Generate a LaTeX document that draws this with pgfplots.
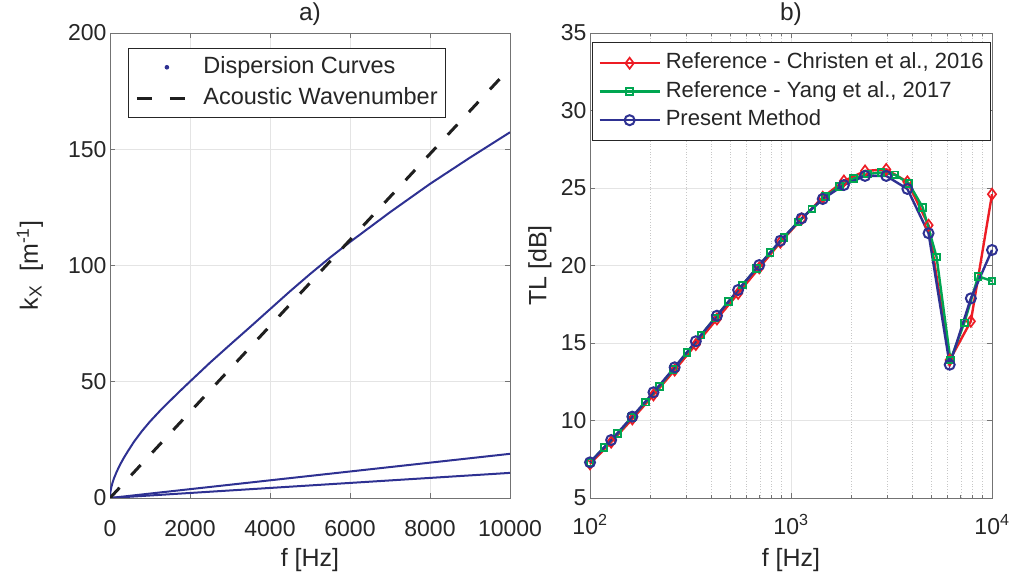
\documentclass[border=0pt]{standalone}
\usepackage{fontspec}
\setmainfont{Liberation Sans}
\usepackage{pgfplots}
\pgfplotsset{compat=1.18}
\definecolor{mblue}{RGB}{46,49,146}
\definecolor{mred}{RGB}{237,28,36}
\definecolor{mgreen}{RGB}{0,166,81}
\definecolor{axtext}{RGB}{38,38,38}
\definecolor{axline}{RGB}{115,115,115}
\definecolor{gridc}{RGB}{228,228,228}

\pgfplotsset{
  mstyle/.style={
    scale only axis,
    axis line style={draw=axline, line width=0.9pt},
    every tick/.style={draw=axline, line width=0.8pt},
    major tick length=5pt, minor tick length=3pt,
    grid=major,
    major grid style={draw=gridc, line width=0.8pt},
    tick label style={font=\fontsize{23}{27}\selectfont, text=axtext},
    /pgf/number format/assume math mode=true,
    /pgf/number format/1000 sep={},
    /pgf/number format/fixed,
    every axis x label/.style={at={(rel axis cs:0.5,0)}, yshift=-62pt, anchor=center,
       font=\fontsize{25}{29}\selectfont, text=axtext},
    every axis title/.style={at={(rel axis cs:0.5,1)}, yshift=19pt, anchor=center,
       font=\fontsize{24.5}{28}\selectfont, text=axtext},
  }
}

% Dispersion curves (f [Hz], k_x [1/m])
\pgfplotstableread{
f k
0 0
10 2.5
30 4.4
60 6.4
100 8.5
167 11.3
250 14.3
350 17.4
450 20.2
600 24.2
800 28.8
1000 32.9
1250 37.5
1500 41.8
1750 46.0
2000 50.1
2500 58.2
3000 65.9
3500 73.5
4000 81.2
4500 88.9
5000 96.3
5500 103.4
6000 110.1
7000 122.9
8000 135.1
9000 146.4
10000 157.3
}\curveA

\pgfplotstableread{
f k
0 0
2500 4.75
5000 9.5
7500 14.25
10000 19.0
}\curveB

\pgfplotstableread{
f k
0 0
2500 2.7
5000 5.4
7500 8.1
10000 10.8
}\curveC

% Transmission loss
\pgfplotstableread{
f tl
100 7.2
127.4 8.6
162.4 10.1
206.9 11.65
263.7 13.25
336.0 14.9
428.1 16.55
545.6 18.2
695.2 19.85
885.9 21.5
1128.8 23.0
1438.4 24.4
1832.9 25.45
2335.7 26.1
2976.4 26.2
3792.7 25.4
4832.9 22.6
6158.5 13.9
7847.6 16.4
10000 24.6
}\tlred

\pgfplotstableread{
f tl
100 7.3
117.2 8.25
137.4 9.15
161.0 10.2
188.7 11.18
221.2 12.2
259.3 13.3
303.9 14.38
356.2 15.5
417.5 16.6
489.4 17.68
573.6 18.75
672.3 19.8
788.0 20.83
923.7 21.82
1082.6 22.8
1268.9 23.65
1487.4 24.45
1743.4 25.1
2043.4 25.6
2395.1 25.9
2807.3 26.0
3290.5 25.85
3856.9 25.3
4520.7 23.75
5298.8 20.55
6210.2 13.9
7279.3 16.3
8532.2 19.3
10000 19.0
}\tlgreen

\pgfplotstableread{
f tl
100 7.3
127.4 8.74
162.4 10.25
206.9 11.82
263.7 13.43
336.0 15.11
428.1 16.76
545.6 18.42
695.2 20.03
885.9 21.6
1128.8 23.04
1438.4 24.29
1832.9 25.19
2335.7 25.78
2976.4 25.78
3792.7 24.94
4832.9 22.08
6158.5 13.6
7847.6 17.88
10000 21.0
}\tlblue

\begin{document}
\begin{tikzpicture}
\useasboundingbox (0,0) rectangle (1017pt,583pt);

% ---------------- a) ----------------
\begin{axis}[mstyle,
  at={(110pt,85pt)}, anchor=south west,
  width=400pt, height=465pt,
  xmin=0, xmax=10000, ymin=0, ymax=200,
  xtick={0,2000,4000,6000,8000,10000},
  ytick={0,50,100,150,200},
  xticklabel style={yshift=-19pt},
  scaled x ticks=false, scaled y ticks=false,
  title={a)},
  xlabel={f [Hz]},
  ylabel={k\textsubscript{X}\ \ [m\textsuperscript{-1}]},
  every axis y label/.style={at={(rel axis cs:0,0.5)}, xshift=-80pt, rotate=90, anchor=center,
       font=\fontsize{25}{29}\selectfont, text=axtext},
  legend style={at={(0.045,0.968)}, anchor=north west,
    draw=axtext, line width=0.8pt, fill=white,
    font=\fontsize{23.5}{27}\selectfont, text=axtext,
    inner xsep=7pt, inner ysep=7pt, row sep=7pt, column sep=16pt,
    nodes={inner sep=1pt, text height=17pt, text depth=5pt}},
  legend cell align=left,
]
\addplot[mblue, line width=2pt, forget plot] table[x=f,y=k] {\curveA};
\addplot[mblue, line width=2pt, forget plot] table[x=f,y=k] {\curveB};
\addplot[mblue, line width=2pt, forget plot] table[x=f,y=k] {\curveC};
\addplot[black!88, line width=3pt, dash pattern=on 14pt off 17pt, forget plot]
  coordinates {(0,0) (10000,185)};
\addlegendimage{legend image code/.code={\path[draw=none,fill=none] (0pt,0pt) -- (48pt,0pt); \fill[mblue,draw=none] (30pt,0pt) circle (2.3pt);}}
\addlegendentry{Dispersion Curves}
\addlegendimage{legend image code/.code={\draw[black!88, line width=3pt, dash pattern=on 15pt off 18pt] (0pt,0pt) -- (48pt,0pt);}}
\addlegendentry{Acoustic Wavenumber}
\end{axis}

% ---------------- b) ----------------
\begin{axis}[mstyle,
  at={(590pt,85pt)}, anchor=south west,
  width=402pt, height=465pt,
  xmode=log, log basis x=10,
  xmin=100, xmax=10000, ymin=5, ymax=35,
  xtick={100,1000,10000},
  xticklabels={10\textsuperscript{2},10\textsuperscript{3},10\textsuperscript{4}},
  xticklabel style={yshift=-13pt},
  minor xtick={200,300,400,500,600,700,800,900,2000,3000,4000,5000,6000,7000,8000,9000},
  xminorgrids=true,
  minor grid style={draw=black!22, line width=0.7pt, dotted},
  ytick={5,10,15,20,25,30,35},
  clip=false,
  title={b)},
  xlabel={f [Hz]},
  ylabel={TL [dB]},
  every axis y label/.style={at={(rel axis cs:0,0.5)}, xshift=-50pt, rotate=90, anchor=center,
       font=\fontsize{25}{29}\selectfont, text=axtext},
  legend style={at={(0.005,0.98)}, anchor=north west,
    draw=axtext, line width=0.8pt, fill=white,
    font=\fontsize{22}{26}\selectfont, text=axtext,
    inner xsep=6pt, inner ysep=9pt, row sep=5.5pt, column sep=4pt,
    nodes={inner sep=1pt, text height=16pt, text depth=5pt}},
  legend cell align=left,
  legend image code/.code={\draw[mark repeat=2,mark phase=2,#1] plot coordinates {(0pt,0pt) (30pt,0pt) (60pt,0pt)};},
]
\addplot[mred, line width=2.4pt, mark=diamond, mark size=5.5pt, mark options={solid, line width=1.7pt}]
  table[x=f,y=tl] {\tlred};
\addlegendentry{Reference - Christen et al., 2016}
\addplot[mgreen, line width=2.4pt, mark=square, mark size=3.3pt, mark options={solid, line width=1.9pt}]
  table[x=f,y=tl] {\tlgreen};
\addlegendentry{Reference - Yang et al., 2017}
\addplot[mblue, line width=2.4pt, mark=o, mark size=5pt, mark options={solid, line width=2pt}]
  table[x=f,y=tl] {\tlblue};
\addlegendentry{Present Method}
\end{axis}
\end{tikzpicture}
\end{document}
